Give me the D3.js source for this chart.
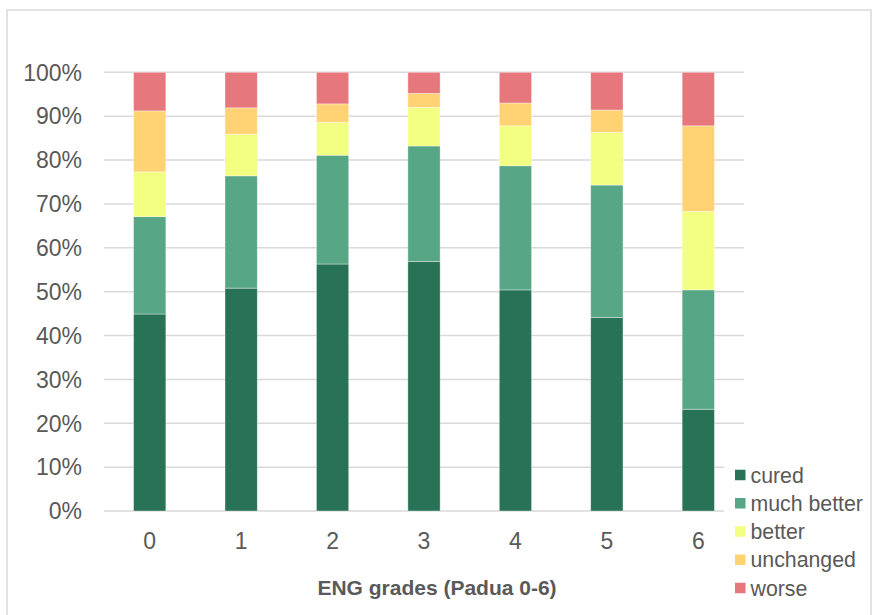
<!DOCTYPE html>
<html>
<head>
<meta charset="utf-8">
<script src="https://cdn.jsdelivr.net/npm/d3@7"></script>
<style>
  html, body { margin: 0; padding: 0; background: #fff; }
  svg { display: block; font-family: "Liberation Sans", Arial, sans-serif; }
</style>
</head>
<body>
<svg id="chart" width="874" height="615"></svg>
<script>
const categories = ["0", "1", "2", "3", "4", "5", "6"];
const seriesNames = ["cured", "much better", "better", "unchanged", "worse"];
const cured      = [44.9, 50.8, 56.3, 56.9, 50.4, 44.1, 23.2];
const muchBetter = [22.2, 25.6, 24.8, 26.3, 28.3, 30.2, 27.2];
const better     = [10.2,  9.5,  7.5,  8.8,  9.1, 12.0, 17.9];
const unchanged  = [13.9,  6.0,  4.2,  3.2,  5.2,  5.1, 19.5];
const worse      = [ 8.8,  8.1,  7.2,  4.8,  7.0,  8.6, 12.2];
const yTicks = [0, 10, 20, 30, 40, 50, 60, 70, 80, 90, 100];
const xTitle = "ENG grades (Padua 0-6)";
const colors = ["#287355", "#57a685", "#f3ff80", "#ffd374", "#e6777c"];

const seriesValues = [cured, muchBetter, better, unchanged, worse];
const rows = categories.map((c, i) => {
  const r = { cat: c };
  seriesNames.forEach((s, j) => r[s] = seriesValues[j][i]);
  return r;
});

const svg = d3.select("#chart");
const plotLeft = 104, plotRight = 744, plotTop = 72.3, plotBottom = 511;

// chart frame
svg.append("rect")
  .attr("x", 7).attr("y", 10).attr("width", 864).attr("height", 620)
  .attr("fill", "#fff").attr("stroke", "#d9d9d9").attr("stroke-width", 1.5);

const x = d3.scaleBand().domain(categories).range([plotLeft, plotRight])
  .paddingInner(0.647).paddingOuter(0.3235);
const y = d3.scaleLinear().domain([0, 100]).range([plotBottom, plotTop]);

// gridlines
svg.append("g").selectAll("line").data(yTicks).join("line")
  .attr("x1", plotLeft).attr("x2", plotRight)
  .attr("y1", d => y(d)).attr("y2", d => y(d))
  .attr("stroke", "#d9d9d9").attr("stroke-width", 1.5);

// y tick labels
svg.append("g").selectAll("text").data(yTicks).join("text")
  .attr("x", 82).attr("y", d => y(d)).attr("dy", "0.36em")
  .attr("text-anchor", "end").attr("fill", "#595959")
  .attr("font-size", "23px")
  .text(d => d + "%");

// bars
const stack = d3.stack().keys(seriesNames)(rows);
svg.append("g").selectAll("g").data(stack).join("g")
  .attr("fill", (d, i) => colors[i])
  .selectAll("rect").data(d => d).join("rect")
  .attr("x", d => x(d.data.cat))
  .attr("width", x.bandwidth())
  .attr("y", d => y(d[1]))
  .attr("height", d => y(d[0]) - y(d[1]))
  .attr("stroke", "#ffffff").attr("stroke-opacity", 0.45).attr("stroke-width", 0.8);

// x tick labels
svg.append("g").selectAll("text").data(categories).join("text")
  .attr("x", d => x(d) + x.bandwidth() / 2).attr("y", 549)
  .attr("text-anchor", "middle").attr("fill", "#595959")
  .attr("font-size", "23px")
  .text(d => d);

// x axis title
svg.append("text")
  .attr("x", (plotLeft + plotRight) / 2 + 13).attr("y", 595)
  .attr("text-anchor", "middle").attr("fill", "#595959")
  .attr("font-size", "21px").attr("font-weight", "bold")
  .text(xTitle);

// legend
const lg = svg.append("g");
lg.append("rect").attr("x", 724).attr("y", 455).attr("width", 146).attr("height", 158).attr("fill", "#fff");
const items = lg.selectAll("g").data(seriesNames).join("g")
  .attr("transform", (d, i) => `translate(735, ${475 + i * 28.25})`);
items.append("rect").attr("x", 0).attr("y", -5.25).attr("width", 10.5).attr("height", 10.5)
  .attr("fill", (d, i) => colors[i]);
items.append("text").attr("x", 15.5).attr("y", 0).attr("dy", "0.36em")
  .attr("fill", "#595959").attr("font-size", "21.3px")
  .text(d => d);
</script>
</body>
</html>
